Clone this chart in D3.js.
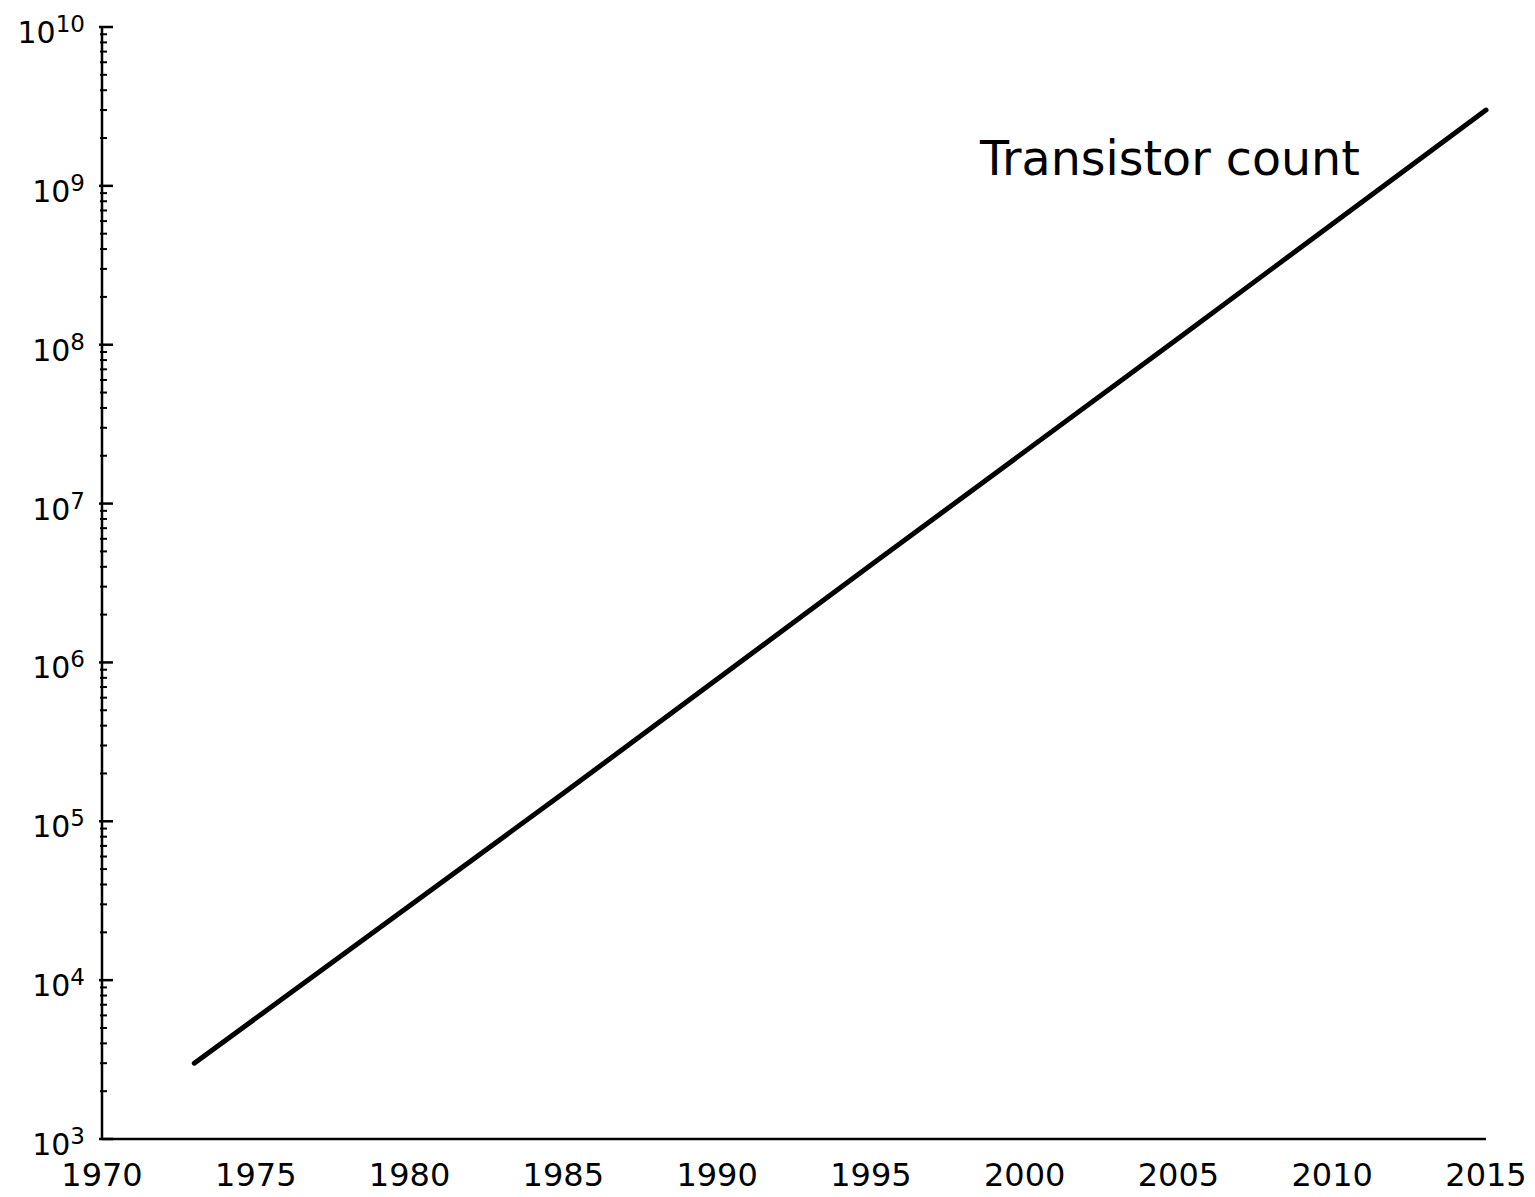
<!DOCTYPE html>
<html>
<head>
<meta charset="utf-8">
<script src="https://cdn.jsdelivr.net/npm/d3@7"></script>
<style>
  body { margin: 0; background: #fff; }
  text { font-family: 'DejaVu Sans', sans-serif; fill: #000; }
</style>
</head>
<body>
<svg id="chart" width="1535" height="1197"></svg>
<script>
const years = [1973, 1985, 1995, 2005, 2015]
const counts = [3e3, 1.5e5, 4.1e6, 1.1e8, 3e9]
const xTicks = [1970, 1975, 1980, 1985, 1990, 1995, 2000, 2005, 2010, 2015]
const yExponents = [3, 4, 5, 6, 7, 8, 9, 10]
const seriesLabel = 'Transistor count'

const svg = d3.select('#chart')
const margin = { left: 102, right: 49, top: 27, bottom: 58 }
const width = +svg.attr('width')
const height = +svg.attr('height')
const innerWidth = width - margin.left - margin.right
const innerHeight = height - margin.top - margin.bottom

const g = svg.append('g')
  .attr('transform', 'translate(' + margin.left + ',' + margin.top + ')')

const x = d3.scaleLinear().domain([1970, 2015]).range([0, innerWidth])
const y = d3.scaleLog().domain([1e3, 1e10]).range([innerHeight, 0])

// minor ticks 2..9 per decade
let minor = []
for (let e = 3; e < 10; e++) {
  for (let m = 2; m <= 9; m++) minor.push(m * Math.pow(10, e))
}
g.append('g').selectAll('line').data(minor).enter().append('line')
  .attr('x1', -2).attr('x2', 5)
  .attr('y1', d => y(d)).attr('y2', d => y(d))
  .attr('stroke', '#000').attr('stroke-width', 2)

// major ticks
const majors = yExponents.map(e => Math.pow(10, e))
g.append('g').selectAll('line').data(majors).enter().append('line')
  .attr('x1', -3).attr('x2', 11)
  .attr('y1', d => y(d)).attr('y2', d => y(d))
  .attr('stroke', '#000').attr('stroke-width', 2.5)

// axis lines
g.append('line')
  .attr('x1', 0).attr('x2', 0).attr('y1', 0).attr('y2', innerHeight)
  .attr('stroke', '#000').attr('stroke-width', 2.5)
g.append('line')
  .attr('x1', 0).attr('x2', innerWidth).attr('y1', innerHeight).attr('y2', innerHeight)
  .attr('stroke', '#000').attr('stroke-width', 2.5)

// y labels 10^n
let yl = g.append('g').selectAll('text').data(yExponents).enter().append('text')
  .attr('x', -17)
  .attr('y', d => y(Math.pow(10, d)) + 16)
  .attr('text-anchor', 'end')
  .style('font-size', '30px')
yl.append('tspan').text('10')
yl.append('tspan').attr('dy', -11).style('font-size', '23px').text(d => String(d))

// x labels
g.append('g').selectAll('text').data(xTicks).enter().append('text')
  .attr('x', d => x(d))
  .attr('y', innerHeight + 47)
  .attr('text-anchor', 'middle')
  .style('font-size', '32px')
  .text(d => d)

// the series
const line = d3.line().x((d, i) => x(years[i])).y(d => y(d))
g.append('path')
  .datum(counts)
  .attr('d', line)
  .attr('fill', 'none')
  .attr('stroke', '#000')
  .attr('stroke-width', 5)
  .attr('stroke-linecap', 'round')

g.append('text')
  .attr('x', 980 - margin.left)
  .attr('y', 175 - margin.top)
  .style('font-size', '47.5px')
  .text(seriesLabel)
</script>
</body>
</html>
